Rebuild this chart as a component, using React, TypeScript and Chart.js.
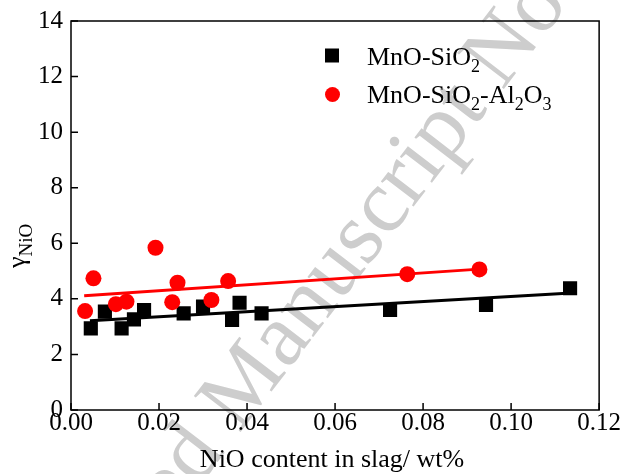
import React, { useEffect, useRef } from "react";
import { Chart, registerables } from "chart.js";

Chart.register(...registerables);

// MnO-SiO2 slag: NiO content (wt%) and activity coefficient
const mnoSiO2X = [0.0045, 0.0077, 0.0115, 0.0143, 0.0166, 0.0256, 0.03, 0.0366, 0.0383, 0.0433, 0.0725, 0.0943, 0.1134];
const mnoSiO2Y = [2.94, 3.54, 2.94, 3.26, 3.6, 3.48, 3.72, 3.24, 3.86, 3.48, 3.6, 3.78, 4.38];

// MnO-SiO2-Al2O3 slag
const alSlagX = [0.0032, 0.0051, 0.0102, 0.0126, 0.0192, 0.023, 0.0242, 0.0319, 0.0357, 0.0764, 0.0928];
const alSlagY = [3.56, 4.74, 3.81, 3.9, 5.84, 3.88, 4.58, 3.96, 4.64, 4.89, 5.06];

// Linear fit end points
const mnoSiO2FitX = [0.0043, 0.1147];
const mnoSiO2FitY = [3.21, 4.22];
const alSlagFitX = [0.003, 0.0928];
const alSlagFitY = [4.11, 5.07];

// Axis ticks
const xTicks = [0, 0.02, 0.04, 0.06, 0.08, 0.1, 0.12];
const yTicks = [0, 2, 4, 6, 8, 10, 12, 14];

const SERIF = "'Liberation Serif', 'Times New Roman', serif";

type Part = [string, boolean];

function drawRich(ctx: CanvasRenderingContext2D, parts: Part[], x: number, y: number, fs: number, subFs: number, subDy: number) {
  let cx = x;
  ctx.textBaseline = "alphabetic";
  ctx.textAlign = "left";
  for (const [t, sub] of parts) {
    ctx.font = `${sub ? subFs : fs}px ${SERIF}`;
    ctx.fillText(t, cx, sub ? y + subDy : y);
    cx += ctx.measureText(t).width;
  }
}

const pts = (xs: number[], ys: number[]) => xs.map((x, i) => ({ x, y: ys[i] }));

const decorations = {
  id: "decorations",
  beforeDraw(chart: any) {
    // diagonal watermark
    const ctx = chart.ctx as CanvasRenderingContext2D;
    ctx.save();
    ctx.font = `90px ${SERIF}`;
    ctx.fillStyle = "#cdcdcd";
    ctx.translate(239, 434);
    ctx.rotate((-52.5 * Math.PI) / 180);
    const pre = ctx.measureText("Accepted ").width;
    ctx.textBaseline = "alphabetic";
    ctx.fillText("Accepted Manuscript Not Copyedited", -pre, 0);
    ctx.restore();
  },
  afterDraw(chart: any) {
    const ctx = chart.ctx as CanvasRenderingContext2D;
    const { left, right, top, bottom } = chart.chartArea;
    const xs = chart.scales.x;
    const ys = chart.scales.y;
    ctx.save();
    ctx.strokeStyle = "#000";
    ctx.lineWidth = 1.5;
    ctx.strokeRect(left, top, right - left, bottom - top);
    // inward ticks
    ctx.beginPath();
    for (const v of xTicks) {
      const px = xs.getPixelForValue(v);
      ctx.moveTo(px, bottom);
      ctx.lineTo(px, bottom - 7);
    }
    for (const v of yTicks) {
      const py = ys.getPixelForValue(v);
      ctx.moveTo(left, py);
      ctx.lineTo(left + 7, py);
    }
    ctx.stroke();

    // legend
    ctx.fillStyle = "#000";
    ctx.fillRect(325, 48.5, 14, 14);
    ctx.fillStyle = "#ff0000";
    ctx.beginPath();
    ctx.arc(332.5, 94.5, 7.5, 0, Math.PI * 2);
    ctx.fill();
    ctx.fillStyle = "#000";
    drawRich(ctx, [["MnO-SiO", false], ["2", true]], 367, 65, 26, 18, 7);
    drawRich(
      ctx,
      [["MnO-SiO", false], ["2", true], ["-Al", false], ["2", true], ["O", false], ["3", true]],
      367,
      103,
      26,
      18,
      7
    );

    // x title
    ctx.font = `26px ${SERIF}`;
    ctx.textAlign = "center";
    ctx.textBaseline = "alphabetic";
    ctx.fillText("NiO content in slag/ wt%", 332, 467);

    // y title
    ctx.translate(25, 268);
    ctx.rotate(-Math.PI / 2);
    drawRich(ctx, [["\u03b3", false], ["NiO", true]], 0, 0, 26, 19, 7);
    ctx.restore();
  },
};

export default function App() {
  const ref = useRef<HTMLCanvasElement>(null);
  useEffect(() => {
    if (!ref.current) return;
    const chart = new Chart(ref.current, {
      type: "scatter",
      data: {
        datasets: [
          {
            label: "MnO-SiO2-Al2O3",
            data: pts(alSlagX, alSlagY),
            pointStyle: "circle",
            pointRadius: 8,
            pointBackgroundColor: "#ff0000",
            pointBorderWidth: 0,
          },
          {
            label: "MnO-SiO2-Al2O3 fit",
            data: pts(alSlagFitX, alSlagFitY),
            showLine: true,
            pointRadius: 0,
            borderColor: "#ff0000",
            borderWidth: 3,
          },
          {
            label: "MnO-SiO2",
            data: pts(mnoSiO2X, mnoSiO2Y),
            pointStyle: "rect",
            pointRadius: 10,
            pointBackgroundColor: "#000",
            pointBorderWidth: 0,
          },
          {
            label: "MnO-SiO2 fit",
            data: pts(mnoSiO2FitX, mnoSiO2FitY),
            showLine: true,
            pointRadius: 0,
            borderColor: "#000",
            borderWidth: 3,
          },
        ],
      },
      options: {
        animation: false,
        responsive: false,
        devicePixelRatio: 1,
        layout: { padding: { left: 0, right: 22, top: 21, bottom: 0 } },
        plugins: { legend: { display: false }, tooltip: { enabled: false } },
        scales: {
          x: {
            type: "linear",
            min: 0,
            max: 0.12,
            afterBuildTicks: (s: any) => {
              s.ticks = xTicks.map((v) => ({ value: v }));
            },
            afterFit: (s: any) => {
              s.height = 64;
            },
            grid: { display: false, drawTicks: false },
            border: { display: false },
            ticks: {
              color: "#000",
              padding: 1,
              font: { family: SERIF, size: 25, lineHeight: 1 },
              callback: (v: any) => Number(v).toFixed(2),
            },
          },
          y: {
            type: "linear",
            min: 0,
            max: 14,
            afterBuildTicks: (s: any) => {
              s.ticks = yTicks.map((v) => ({ value: v }));
            },
            afterFit: (s: any) => {
              s.width = 71;
            },
            grid: { display: false, drawTicks: false },
            border: { display: false },
            ticks: {
              color: "#000",
              padding: 8,
              font: { family: SERIF, size: 25, lineHeight: 1 },
              callback: (v: any) => String(v),
            },
          },
        },
      },
      plugins: [decorations],
    });
    return () => chart.destroy();
  }, []);
  return (
    <div style={{ position: "absolute", left: 0, top: 0, width: 622, height: 474, background: "#fff" }}>
      <canvas ref={ref} width={622} height={474} />
    </div>
  );
}
